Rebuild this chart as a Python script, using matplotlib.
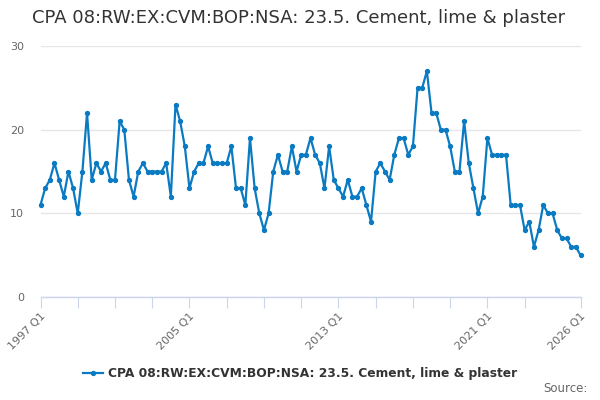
import matplotlib
matplotlib.use("Agg")
import matplotlib.pyplot as plt
from matplotlib.lines import Line2D

title = "CPA 08:RW:EX:CVM:BOP:NSA: 23.5. Cement, lime & plaster"
start_year = 1997
values = [
    11, 13, 14, 16,
    14, 12, 15, 13,
    10, 15, 22, 14,
    16, 15, 16, 14,
    14, 21, 20, 14,
    12, 15, 16, 15,
    15, 15, 15, 16,
    12, 23, 21, 18,
    13, 15, 16, 16,
    18, 16, 16, 16,
    16, 18, 13, 13,
    11, 19, 13, 10,
    8, 10, 15, 17,
    15, 15, 18, 15,
    17, 17, 19, 17,
    16, 13, 18, 14,
    13, 12, 14, 12,
    12, 13, 11, 9,
    15, 16, 15, 14,
    17, 19, 19, 17,
    18, 25, 25, 27,
    22, 22, 20, 20,
    18, 15, 15, 21,
    16, 13, 10, 12,
    19, 17, 17, 17,
    17, 11, 11, 11,
    8, 9, 6, 8,
    11, 10, 10, 8,
    7, 7, 6, 6,
    5,
]
labels = [f"{start_year + i // 4} Q{i % 4 + 1}" for i in range(len(values))]
label_ticks = ["1997 Q1", "2005 Q1", "2013 Q1", "2021 Q1", "2026 Q1"]
yticks = [0, 10, 20, 30]

color = "#0a7bc2"
fig = plt.figure(figsize=(6, 4), dpi=100)
ax = fig.add_axes([40.5 / 600, 1 - 297 / 400, 540 / 600, 251 / 400])
x = list(range(len(values)))
ax.plot(x, values, color=color, lw=1.6, marker="o", ms=2.8, zorder=3, clip_on=False)

ax.set_xlim(0, len(values) - 1)
ax.set_ylim(0, 30)
ax.set_yticks(yticks)
ax.set_yticklabels([str(v) for v in yticks])
ax.grid(axis="y", color="#e6e6e6", lw=1)
ax.set_axisbelow(True)
for s in ["top", "right", "left"]:
    ax.spines[s].set_visible(False)
ax.spines["bottom"].set_color("#ccd6eb")
ax.spines["bottom"].set_linewidth(1)

tick_pos = list(range(0, 105, 8)) + [len(values) - 1]
ax.set_xticks(tick_pos)
ax.set_xticklabels([labels[p] if labels[p] in label_ticks else "" for p in tick_pos],
                   rotation=45, ha="right", rotation_mode="anchor")
ax.tick_params(axis="x", length=8, color="#ccd6eb", labelcolor="#666666", labelsize=8, pad=2)
ax.tick_params(axis="y", length=0, labelcolor="#666666", labelsize=8, pad=12)

fig.text(0.497, 1 - 18 / 400, title, ha="center", va="center", fontsize=13, color="#333333")

handle = Line2D([], [], color=color, lw=1.6, marker="o", ms=2.8)
leg = fig.legend([handle], [title], loc="center", bbox_to_anchor=(0.5, 1 - 374 / 400),
                 frameon=False, handlelength=1.6, handletextpad=0.4,
                 prop={"weight": "bold", "size": 8.8})
for t in leg.get_texts():
    t.set_color("#333333")
fig.text(588 / 600, 1 - 389 / 400, "Source:", ha="right", va="center", fontsize=8.5, color="#666666")

fig.savefig("out.png", dpi=100)
